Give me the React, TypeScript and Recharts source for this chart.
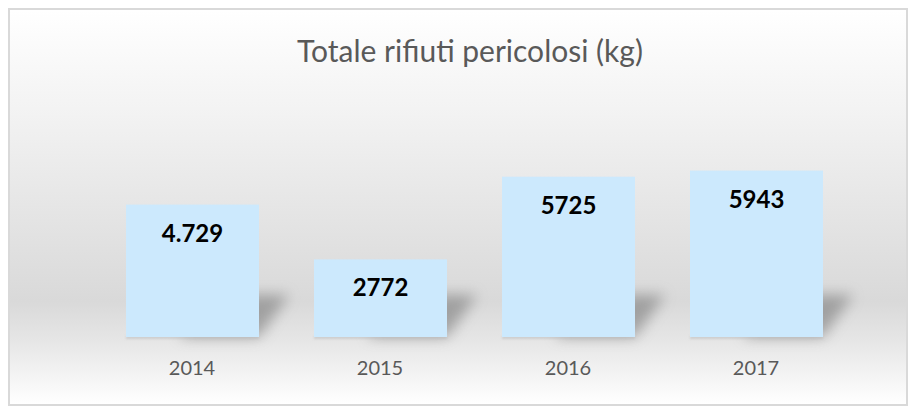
import React from "react";
import { BarChart, Bar, XAxis, YAxis, LabelList } from "recharts";

const years = ["2014", "2015", "2016", "2017"];
const totals = [4729, 2772, 5725, 5943];
const totalLabels = ["4.729", "2772", "5725", "5943"];

const data = years.map((year, i) => ({ year, total: totals[i], label: totalLabels[i] }));

const FONT = "Lato, 'Noto Sans', sans-serif";

// bar with a soft perspective shadow to the lower right
const ShadowBar = (props: any) => {
  const { x, y, width, height, fill } = props;
  const bottom = y + height;
  const sh = Math.min(42, height * 0.6);
  return (
    <g>
      <polygon
        points={`${x + width * 0.4},${bottom} ${x + width},${bottom} ${x + width + 30},${bottom - sh} ${x + width * 0.4 + 30},${bottom - sh}`}
        fill="#6f6f6f"
        opacity={0.55}
        filter="url(#barShadow)"
      />
      <rect x={x} y={bottom - 1} width={width} height={3} fill="#bdbdbd" opacity={0.6} filter="url(#edgeBlur)" />
      <rect x={x} y={y} width={width} height={height} fill={fill} />
    </g>
  );
};

export default function App() {
  return (
    <div
      style={{
        position: "relative",
        width: 896,
        height: 394,
        border: "2px solid #d9d9d9",
        background: "linear-gradient(to bottom, #ffffff 0%, #f3f3f3 25%, #d9d9d9 74%, #e6e6e6 84%, #ffffff 100%)",
        fontFamily: FONT,
      }}
    >
      <div
        style={{
          position: "absolute",
          left: 460,
          top: 25,
          transform: "translateX(-50%)",
          whiteSpace: "nowrap",
          fontSize: 30,
          lineHeight: "30px",
          color: "#595959",
        }}
      >
        Totale rifiuti pericolosi (kg)
      </div>
      <BarChart
        width={896}
        height={394}
        data={data}
        margin={{ top: 131, right: 56, bottom: 27, left: 88 }}
        style={{ position: "absolute", left: 0, top: 0 }}
      >
        <defs>
          <filter id="barShadow" x="-50%" y="-50%" width="200%" height="200%">
            <feGaussianBlur stdDeviation="7" />
          </filter>
          <filter id="edgeBlur" x="-10%" y="-200%" width="120%" height="500%">
            <feGaussianBlur stdDeviation="1" />
          </filter>
        </defs>
        <XAxis
          dataKey="year"
          axisLine={false}
          tickLine={false}
          tickSize={0}
          tickMargin={24}
          height={40}
          tick={{ fill: "#595959", fontSize: 20, fontFamily: FONT }}
        />
        <YAxis hide domain={[0, 7000]} />
        <Bar dataKey="total" fill="#cce9fd" barSize={133} shape={<ShadowBar />} isAnimationActive={false}>
          <LabelList
            dataKey="label"
            position="insideTop"
            offset={20}
            style={{ fill: "#000000", fontSize: 24, fontWeight: 700, fontFamily: FONT }}
          />
        </Bar>
      </BarChart>
    </div>
  );
}
